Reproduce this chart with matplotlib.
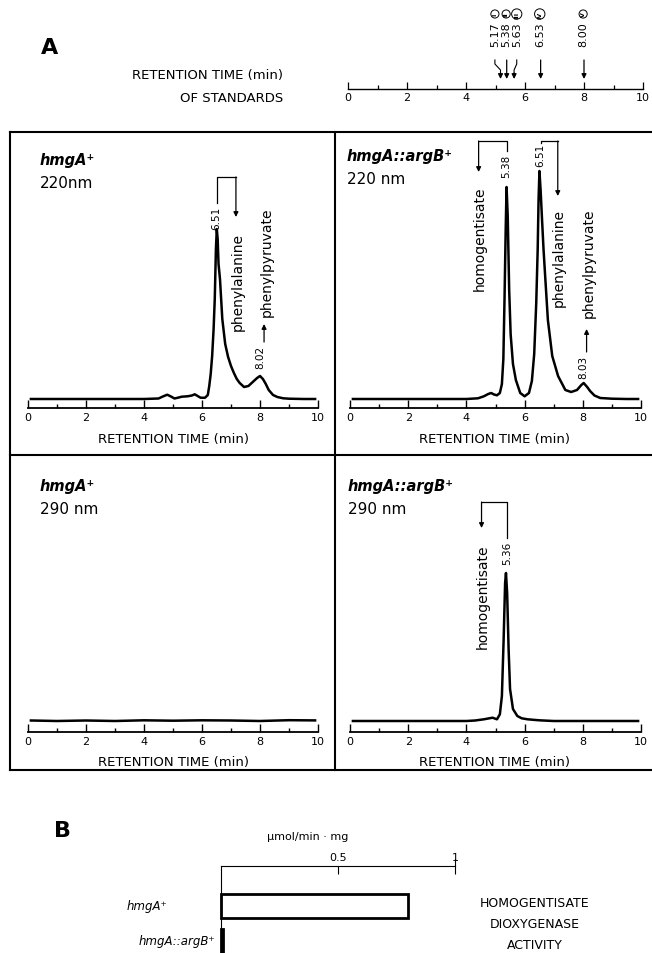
import matplotlib
matplotlib.use("Agg")
import matplotlib.pyplot as plt
from matplotlib.lines import Line2D

W, H = 652, 954

# retention-time standards
std_times = [5.17, 5.38, 5.63, 6.53, 8.00]
std_labels = ["5.17", "5.38", "5.63", "6.53", "8.00"]
std_numerals = ["I", "II", "III", "IV", "V"]
std_label_pos = [4.98, 5.36, 5.72, 6.50, 7.97]  # where the text sits (bent arrows)

# chromatograms (minutes, absorbance in arbitrary units)
t_wt_220 = [0.1, 1, 2, 3, 4, 4.5, 4.65, 4.8, 4.95, 5.05, 5.2, 5.3, 5.5, 5.65, 5.75, 5.85,
            5.95, 6.1, 6.2, 6.25, 6.3, 6.35, 6.4, 6.44, 6.48, 6.51, 6.54, 6.57, 6.62, 6.7,
            6.8, 6.9, 7.0, 7.1, 7.2, 7.3, 7.45, 7.6, 7.75, 7.9, 8.0, 8.1, 8.2, 8.3, 8.45,
            8.6, 8.8, 9.0, 9.5, 9.9]
a_wt_220 = [0, 0, 0, 0, 0, 0.5, 2.5, 4.3, 2.2, 0.5, 1.5, 2.3, 2.7, 3.5, 4.7, 3,
            1.3, 1.2, 4, 13, 25, 43, 70, 100, 150, 170, 160, 135, 120, 80,
            55, 42, 33, 26, 20, 16, 12, 13, 17, 21, 23, 20, 15, 9, 4,
            2, 0.7, 0.3, 0, 0]

t_mut_220 = [0.1, 1, 2, 3, 4, 4.4, 4.6, 4.75, 4.85, 4.95, 5.05, 5.15, 5.22, 5.27, 5.31,
             5.35, 5.38, 5.42, 5.47, 5.52, 5.6, 5.7, 5.85, 6.0, 6.15, 6.25, 6.33, 6.4,
             6.45, 6.48, 6.51, 6.55, 6.6, 6.65, 6.7, 6.8, 6.95, 7.15, 7.4, 7.6, 7.8, 7.95,
             8.03, 8.15, 8.25, 8.4, 8.6, 9.0, 9.5, 9.9]
a_mut_220 = [0, 0, 0, 0, 0, 0.7, 2.7, 5, 6, 4.5, 3.7, 6, 15, 40, 100,
             169, 212, 183, 109, 65, 35, 19, 6, 2.7, 6, 18, 45, 96,
             150, 200, 228, 209, 179, 150, 126, 79, 43, 23, 9, 7, 9, 14,
             16, 12, 8, 3.5, 1, 0.3, 0, 0]

t_wt_290 = [0.1, 1, 2, 3, 4, 5, 6, 7, 8, 9, 9.9]
a_wt_290 = [0.5, 0, 0.5, 0, 0.7, 0.3, 0.7, 0.5, 0, 0.8, 0.6]

t_mut_290 = [0.1, 1, 2, 3, 4, 4.3, 4.6, 4.9, 5.05, 5.15, 5.22, 5.28, 5.33, 5.36, 5.4,
             5.45, 5.5, 5.6, 5.75, 5.9, 6.1, 6.5, 7, 8, 9, 9.9]
a_mut_290 = [0, 0, 0, 0, 0, 0.5, 1.7, 3.3, 1.7, 6.7, 25, 82, 138, 148, 128,
             72, 32, 12, 5, 2.7, 1.7, 0.7, 0, 0, 0, 0]

# panel B
strains = ["hmgA\u207a", "hmgA::argB\u207a"]
activity = [0.80, 0.01]  # umol/min.mg

fig = plt.figure(figsize=(W / 100, H / 100), dpi=100)
plt.rcParams["font.family"] = ["DejaVu Sans"]


def ax_px(x0, x1, ytop, ybot):
    return fig.add_axes([x0 / W, 1 - ybot / H, (x1 - x0) / W, (ybot - ytop) / H])


def ftext(x, y, s, **kw):
    return fig.text(x / W, 1 - y / H, s, **kw)


def fline(xs, ys, **kw):
    fig.add_artist(Line2D([x / W for x in xs], [1 - y / H for y in ys],
                          transform=fig.transFigure, color="k", **kw))


def arrow(ax, x, y0, y1):
    ax.annotate("", xy=(x, y1), xytext=(x, y0),
                arrowprops=dict(arrowstyle="-|>", lw=0.9, color="k", mutation_scale=7,
                                shrinkA=0, shrinkB=0), annotation_clip=False)


def chrom_axes(x0, x1, ytop, ybot, base):
    ax = ax_px(x0, x1, ytop, ybot)
    ax.set_xlim(0, 10)
    ax.set_ylim(-(ybot - base), base - ytop)
    for s in ["top", "right", "left"]:
        ax.spines[s].set_visible(False)
    ax.spines["bottom"].set_linewidth(1.3)
    ax.set_xticks(range(0, 11, 2))
    ax.set_xticks(range(1, 10, 2), minor=True)
    ax.tick_params(axis="x", which="major", direction="in", length=6, width=1,
                   labelsize=8, pad=3)
    ax.tick_params(axis="x", which="minor", direction="in", length=3, width=1)
    ax.set_yticks([])
    ax.patch.set_visible(False)
    return ax


def vtext(ax, x, y, s, size=10):
    ax.text(x, y, s, rotation=90, ha="center", va="center", fontsize=size, clip_on=False)


# ---------------- A: standards ----------------
ftext(50, 48, "A", fontsize=16, fontweight="bold", ha="center", va="center")
ftext(207, 75, "RETENTION TIME (min)", fontsize=9.5, ha="center", va="center")
ftext(232, 98, "OF STANDARDS", fontsize=9.5, ha="center", va="center")

axs = ax_px(348, 643, 5, 90)
axs.set_xlim(0, 10)
axs.set_ylim(0, 85)
for s in ["top", "right", "left"]:
    axs.spines[s].set_visible(False)
axs.spines["bottom"].set_linewidth(1.0)
axs.set_xticks(range(0, 11, 2))
axs.set_xticks(range(1, 10, 2), minor=True)
axs.tick_params(axis="x", which="major", direction="in", length=5, width=0.9, labelsize=8, pad=2)
axs.tick_params(axis="x", which="minor", direction="in", length=3, width=0.9)
axs.set_yticks([])
axs.patch.set_visible(False)
for t, lab, num, xp in zip(std_times, std_labels, std_numerals, std_label_pos):
    axs.text(xp, 55, lab, rotation=90, ha="center", va="center", fontsize=8)
    axs.text(xp, 75, num, rotation=90, ha="center", va="center", fontsize=4.5,
             fontweight="bold",
             bbox=dict(boxstyle="circle,pad=0.25", fc="white", ec="k", lw=0.7))
    if abs(xp - t) > 0.05:
        axs.plot([xp, xp, t, t], [29, 25, 19, 16], color="k", lw=0.8)
        arrow(axs, t, 16, 10)
    else:
        arrow(axs, t, 29, 10)

# ---------------- A: chromatograms ----------------
# frame
fline([10, 652], [133, 133], lw=1.5)
fline([10, 652], [456, 456], lw=1.5)
fline([10, 652], [771, 771], lw=1.5)
fline([10, 10], [133, 771], lw=1.5)
fline([335, 335], [133, 771], lw=1.5)

ax1 = chrom_axes(28, 318, 134, 409, 400)
ax1.plot(t_wt_220, a_wt_220, color="k", lw=1.8)
ax2 = chrom_axes(350, 641, 134, 409, 400)
ax2.plot(t_mut_220, a_mut_220, color="k", lw=1.8)
ax3 = chrom_axes(28, 318, 460, 733, 722)
ax3.plot(t_wt_290, a_wt_290, color="k", lw=1.8)
ax4 = chrom_axes(350, 641, 460, 733, 722)
ax4.plot(t_mut_290, a_mut_290, color="k", lw=1.8)

for x, y in [(173, 440), (495, 440), (173, 763), (495, 763)]:
    ftext(x, y, "RETENTION TIME (min)", fontsize=9.5, ha="center", va="center")

lab_kw = dict(fontsize=10.5, style="italic", fontweight="bold", va="center", ha="left")
wl_kw = dict(fontsize=11, va="center", ha="left")
ftext(40, 160, strains[0], **lab_kw)
ftext(40, 183, "220nm", **wl_kw)
ftext(347, 157, strains[1], **lab_kw)
ftext(347, 180, "220 nm", **wl_kw)
ftext(40, 487, strains[0], **lab_kw)
ftext(40, 510, "290 nm", **wl_kw)
ftext(348, 487, strains[1], **lab_kw)
ftext(348, 510, "290 nm", **wl_kw)

# panel 1 annotations
vtext(ax1, 6.49, 182, "6.51", size=7.5)
ax1.plot([6.53, 6.53, 7.17], [196, 222, 222], color="k", lw=0.9, clip_on=False)
arrow(ax1, 7.17, 222, 182)
vtext(ax1, 7.22, 118, "phenylalanine")
vtext(ax1, 8.02, 43, "8.02", size=7.5)
arrow(ax1, 8.14, 57, 75)
vtext(ax1, 8.22, 138, "phenylpyruvate")

# panel 2 annotations
vtext(ax2, 5.38, 234, "5.38", size=7.5)
ax2.plot([5.38, 5.38, 4.42], [248, 258, 258], color="k", lw=0.9, clip_on=False)
arrow(ax2, 4.42, 258, 227)
vtext(ax2, 4.45, 161, "homogentisate")
vtext(ax2, 6.53, 245, "6.51", size=7.5)
ax2.plot([6.55, 6.55, 7.14], [256, 258, 258], color="k", lw=0.9, clip_on=False)
arrow(ax2, 7.14, 258, 203)
vtext(ax2, 7.17, 142, "phenylalanine")
vtext(ax2, 8.03, 33, "8.03", size=7.5)
arrow(ax2, 8.13, 47, 70)
vtext(ax2, 8.2, 137, "phenylpyruvate")

# panel 4 annotations
vtext(ax4, 5.39, 169, "5.36", size=7.5)
ax4.plot([5.39, 5.39, 4.52], [183, 219, 219], color="k", lw=0.9, clip_on=False)
arrow(ax4, 4.52, 219, 193)
vtext(ax4, 4.55, 125, "homogentisate")

# ---------------- B: enzyme activity ----------------
ftext(62, 831, "B", fontsize=16, fontweight="bold", ha="center", va="center")
ftext(308, 837, "\u00b5mol/min \u00b7 mg", fontsize=8, ha="center", va="center")

axb = ax_px(221, 455, 867, 954)
axb.set_xlim(0, 1)
axb.set_ylim(87, 0)
axb.barh([40, 75], activity, height=24, color="white", edgecolor="k", lw=2, clip_on=False)
for s in ["bottom", "right"]:
    axb.spines[s].set_visible(False)
axb.spines["top"].set_linewidth(0.8)
axb.spines["left"].set_linewidth(0.8)
axb.xaxis.tick_top()
axb.set_xticks([0.5, 1.0], ["0.5", "1"])
axb.tick_params(axis="x", direction="in", length=6, width=0.8, labelsize=8, pad=3)
axb.plot([1, 1], [0, -7], color="k", lw=0.8, clip_on=False)
axb.set_yticks([])
axb.text(-0.231, 40, strains[0], ha="right", va="center", fontsize=8.5, style="italic")
axb.text(-0.026, 75, strains[1], ha="right", va="center", fontsize=8.5, style="italic")

for y, s in [(904, "HOMOGENTISATE"), (925, "DIOXYGENASE"), (946, "ACTIVITY")]:
    ftext(535, y, s, fontsize=9, ha="center", va="center")

fig.savefig("out.png", dpi=100)
